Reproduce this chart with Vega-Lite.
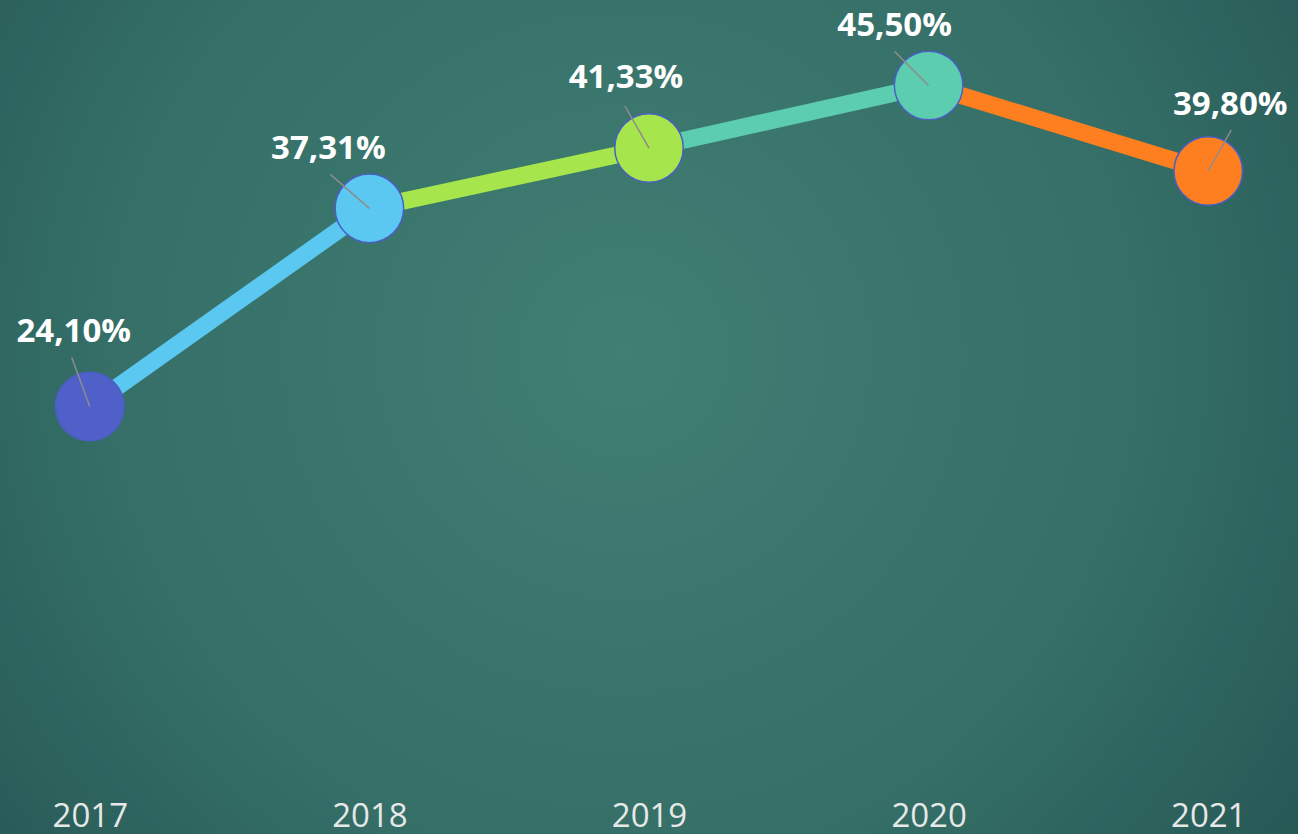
{
  "$schema": "https://vega.github.io/schema/vega-lite/v6.json",
  "width": 1298,
  "height": 834,
  "padding": 0,
  "autosize": {"type": "none"},
  "background": "#2e6864",
  "config": {
    "view": {
      "stroke": null,
      "fill": {
        "gradient": "radial",
        "x1": 0.48, "y1": 0.45, "r1": 0,
        "x2": 0.48, "y2": 0.45, "r2": 0.72,
        "stops": [
          {"offset": 0, "color": "#417e73"},
          {"offset": 0.55, "color": "#356f68"},
          {"offset": 1, "color": "#22514f"}
        ]
      }
    },
    "font": "Open Sans"
  },
  "data": {
    "values": [
      {"year": 2017, "value": 24.10},
      {"year": 2018, "value": 37.31},
      {"year": 2019, "value": 41.33},
      {"year": 2020, "value": 45.50},
      {"year": 2021, "value": 39.80}
    ]
  },
  "transform": [
    {"calculate": "replace(format(datum.value, '.2f'), '.', ',') + '%'", "as": "label"}
  ],
  "encoding": {
    "x": {
      "field": "year", "type": "ordinal",
      "scale": {"type": "point", "padding": 0.321},
      "axis": {
        "title": null, "domain": false, "ticks": false, "grid": false,
        "labelAngle": 0, "labelFontSize": 33, "labelColor": "#e6e9e8",
        "labelFont": "Open Sans", "labelBaseline": "alphabetic",
        "labelPadding": 0, "offset": -8
      }
    },
    "y": {
      "field": "value", "type": "quantitative",
      "scale": {"domain": [-4.4, 51.2], "nice": false, "zero": false},
      "axis": null
    }
  },
  "layer": [
    {
      "transform": [
        {"window": [{"op": "lead", "field": "year", "as": "year2"}, {"op": "lead", "field": "value", "as": "value2"}], "sort": [{"field": "year"}]},
        {"filter": "datum.year2 != null"}
      ],
      "mark": {"type": "rule", "strokeWidth": 17, "strokeCap": "butt"},
      "encoding": {
        "x2": {"field": "year2"},
        "y2": {"field": "value2"},
        "color": {
          "field": "year2", "type": "nominal",
          "scale": {"domain": [2017, 2018, 2019, 2020, 2021], "range": ["#4f60c9", "#5bc8f1", "#a6e54b", "#5dcdb0", "#fe7f20"]},
          "legend": null
        }
      }
    },
    {
      "mark": {"type": "point", "filled": true, "opacity": 1, "size": 4700, "stroke": "#4a5ec6", "strokeWidth": 1.5, "shape": "circle"},
      "encoding": {
        "fill": {
          "field": "year", "type": "nominal",
          "scale": {"domain": [2017, 2018, 2019, 2020, 2021], "range": ["#4f60c9", "#5bc8f1", "#a6e54b", "#5dcdb0", "#fe7f20"]},
          "legend": null
        }
      }
    },
    {
      "mark": {"type": "point", "filled": false, "opacity": 1, "size": 10000, "stroke": "#8c8c8c", "strokeWidth": 1.5},
      "encoding": {
        "shape": {
          "field": "year", "type": "nominal",
          "scale": {"domain": [2017, 2018, 2019, 2020, 2021], "range": ["M0,0L-0.36,-0.98", "M0,0L-0.78,-0.68", "M0,0L-0.48,-0.84", "M0,0L-0.68,-0.68", "M0,0L0.46,-0.82"]},
          "legend": null
        }
      }
    },
    {
      "transform": [{"filter": "datum.year == 2017"}],
      "mark": {"type": "text", "dx": -16, "dy": -75, "fontSize": 33, "fontWeight": "bold", "color": "#ffffff", "baseline": "middle"},
      "encoding": {"text": {"field": "label"}}
    },
    {
      "transform": [{"filter": "datum.year == 2018"}],
      "mark": {"type": "text", "dx": -41, "dy": -59, "fontSize": 33, "fontWeight": "bold", "color": "#ffffff", "baseline": "middle"},
      "encoding": {"text": {"field": "label"}}
    },
    {
      "transform": [{"filter": "datum.year == 2019"}],
      "mark": {"type": "text", "dx": -23, "dy": -70, "fontSize": 33, "fontWeight": "bold", "color": "#ffffff", "baseline": "middle"},
      "encoding": {"text": {"field": "label"}}
    },
    {
      "transform": [{"filter": "datum.year == 2020"}],
      "mark": {"type": "text", "dx": -34, "dy": -60, "fontSize": 33, "fontWeight": "bold", "color": "#ffffff", "baseline": "middle"},
      "encoding": {"text": {"field": "label"}}
    },
    {
      "transform": [{"filter": "datum.year == 2021"}],
      "mark": {"type": "text", "dx": 22, "dy": -66, "fontSize": 33, "fontWeight": "bold", "color": "#ffffff", "baseline": "middle"},
      "encoding": {"text": {"field": "label"}}
    }
  ]
}
